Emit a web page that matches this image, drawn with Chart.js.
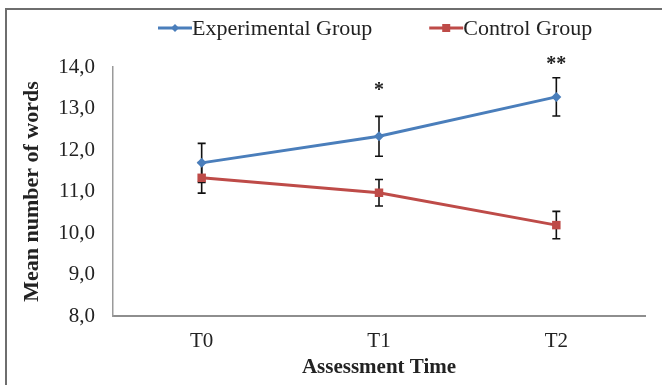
<!DOCTYPE html>
<html>
<head>
<meta charset="utf-8">
<script src="https://cdn.jsdelivr.net/npm/chart.js@4"></script>
<style>
  html, body { margin: 0; background: #fff; }
  #wrap { width: 662px; height: 385px; position: relative; }
</style>
</head>
<body>
<div id="wrap"><canvas id="chart" width="662" height="385"></canvas></div>
<script>
/* ---------- data ---------- */
const timeLabels = ['T0', 'T1', 'T2'];
const expMeans   = [11.69, 12.33, 13.28];
const expErr     = [0.47, 0.48, 0.46];
const ctrlMeans  = [11.33, 10.97, 10.19];
const ctrlErr    = [0.37, 0.32, 0.33];
const sigMarks   = ['', '*', '**'];
const sigLevels  = [null, 13.52, 14.15];
const yTicks     = [8, 9, 10, 11, 12, 13, 14];

const BLUE = '#4a7ebb';
const RED  = '#be4b48';
const SERIF = '"Liberation Serif", "Times New Roman", serif';

/* ---------- plugins ---------- */
const frame = {
  id: 'frame',
  beforeDraw(chart) {
    const ctx = chart.ctx;
    ctx.save();
    ctx.fillStyle = '#fff';
    ctx.fillRect(0, 0, chart.width, chart.height);
    ctx.strokeStyle = '#6e6e6e';
    ctx.lineWidth = 2;
    ctx.beginPath();
    ctx.moveTo(6, chart.height);
    ctx.lineTo(6, 9);
    ctx.lineTo(chart.width, 9);
    ctx.stroke();
    ctx.restore();
  }
};

// error bars, drawn under the markers
const errorBars = {
  id: 'errorBars',
  beforeDatasetsDraw(chart) {
    const ctx = chart.ctx, y = chart.scales.y;
    ctx.save();
    ctx.strokeStyle = '#111';
    ctx.lineWidth = 1.6;
    chart.data.datasets.forEach((ds, di) => {
      chart.getDatasetMeta(di).data.forEach((pt, i) => {
        const top = y.getPixelForValue(ds.data[i] + ds.err[i]);
        const bot = y.getPixelForValue(ds.data[i] - ds.err[i]);
        ctx.beginPath();
        ctx.moveTo(pt.x, top); ctx.lineTo(pt.x, bot);
        ctx.moveTo(pt.x - 4, top); ctx.lineTo(pt.x + 4, top);
        ctx.moveTo(pt.x - 4, bot); ctx.lineTo(pt.x + 4, bot);
        ctx.stroke();
      });
    });
    ctx.restore();
  }
};

// significance stars + legend
const extras = {
  id: 'extras',
  afterDraw(chart) {
    const ctx = chart.ctx, x = chart.scales.x, y = chart.scales.y;
    ctx.save();
    ctx.fillStyle = '#222';
    ctx.font = 'bold 20px ' + SERIF;
    ctx.textAlign = 'center';
    ctx.textBaseline = 'middle';
    sigMarks.forEach((m, i) => {
      if (!m) return;
      ctx.fillText(m, x.getPixelForValue(i), y.getPixelForValue(sigLevels[i]) + 4);
    });

    /* legend: line + marker + text */
    ctx.font = '22px ' + SERIF;
    ctx.textAlign = 'left';
    let lx = 158;
    const ly = 28;
    chart.data.datasets.forEach(ds => {
      ctx.strokeStyle = ds.borderColor;
      ctx.lineWidth = 3;
      ctx.beginPath();
      ctx.moveTo(lx, ly); ctx.lineTo(lx + 34, ly);
      ctx.stroke();
      ctx.fillStyle = ds.borderColor;
      const cx = lx + 17;
      if (ds.pointStyle === 'rect') {
        ctx.fillRect(cx - 4, ly - 4, 8, 8);
      } else {
        ctx.beginPath();
        ctx.moveTo(cx, ly - 4); ctx.lineTo(cx + 4, ly);
        ctx.lineTo(cx, ly + 4); ctx.lineTo(cx - 4, ly);
        ctx.closePath(); ctx.fill();
      }
      ctx.fillStyle = '#222';
      ctx.fillText(ds.label, lx + 34, ly + 1);
      lx += 34 + ctx.measureText(ds.label).width + 57;
    });
    ctx.restore();
  }
};

/* ---------- chart ---------- */
new Chart(document.getElementById('chart'), {
  type: 'line',
  data: {
    labels: timeLabels,
    datasets: [
      {
        label: 'Experimental Group',
        data: expMeans,
        err: expErr,
        borderColor: BLUE,
        backgroundColor: BLUE,
        borderWidth: 3,
        pointStyle: 'rectRot',
        pointRadius: 5,
        pointBorderWidth: 0,
        tension: 0
      },
      {
        label: 'Control Group',
        data: ctrlMeans,
        err: ctrlErr,
        borderColor: RED,
        backgroundColor: RED,
        borderWidth: 3,
        pointStyle: 'rect',
        pointRadius: 6,
        pointBorderWidth: 0,
        tension: 0
      }
    ]
  },
  options: {
    responsive: false,
    animation: false,
    layout: { padding: { top: 67, right: 17, bottom: 0, left: 0 } },
    plugins: {
      legend: { display: false },
      tooltip: { enabled: false }
    },
    scales: {
      x: {
        offset: true,
        afterFit: s => { s.height = 69; },
        grid: { display: false, drawTicks: false },
        border: { color: '#8e8e8e', width: 2 },
        ticks: { padding: 13, color: '#222', font: { family: SERIF, size: 21 } },
        title: {
          display: true, text: 'Assessment Time', color: '#222',
          font: { family: SERIF, size: 21, weight: 'bold' },
          padding: { top: 4, bottom: 5 }
        }
      },
      y: {
        min: 8, max: 14,
        afterBuildTicks: s => { s.ticks = yTicks.map(v => ({ value: v })); },
        afterFit: s => { s.width = 113; },
        grid: { display: false, drawTicks: false },
        border: { color: '#9a9a9a', width: 1.5 },
        ticks: {
          padding: 18, color: '#222', font: { family: SERIF, size: 21 },
          callback: v => v.toFixed(1).replace('.', ',')
        },
        title: {
          display: true, text: 'Mean number of words', color: '#222',
          font: { family: SERIF, size: 22, weight: 'bold' },
          padding: { top: 19, bottom: 0 }
        }
      }
    }
  },
  plugins: [frame, errorBars, extras]
});
</script>
</body>
</html>
